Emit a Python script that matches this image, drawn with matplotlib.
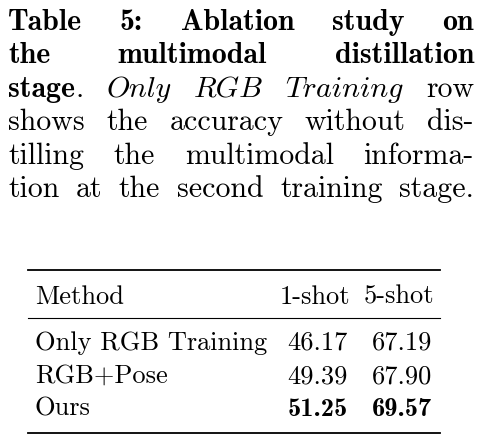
import matplotlib
matplotlib.use("Agg")
import matplotlib.pyplot as plt

methods = ["Only RGB Training", "RGB+Pose", "Ours"]
one_shot = ["46.17", "49.39", "51.25"]
five_shot = ["67.19", "67.90", "69.57"]
best_row = 2

R, B, I = "cmr10", "cmb10", "cmmi10"
caption = [
    [[("Table", B)], [("5:", B)], [("Ablation", B)], [("study", B)], [("on", B)]],
    [[("the", B)], [("multimodal", B)], [("distillation", B)]],
    [[("stage", B), (".", R)], [("Only", I)], [("RGB", I)], [("Training", I)], [("row", R)]],
    [[(w, R)] for w in "shows the accuracy without dis-".split()],
    [[(w, R)] for w in "tilling the multimodal informa-".split()],
    [[(w, R)] for w in "tion at the second training stage.".split()],
]

fig = plt.figure(figsize=(4.8, 4.4), dpi=100)
ax = fig.add_axes([0, 0, 1, 1])
ax.set_xlim(0, 480)
ax.set_ylim(440, 0)
ax.axis("off")
r = fig.canvas.get_renderer()

def width(s, font, size):
    t = ax.text(0, 0, s, fontname=font, fontsize=size)
    w = t.get_window_extent(r).width
    t.remove()
    return w

x0, x1, fs = 8, 474, 21.5
baselines = [30, 63, 97, 130, 164, 197]
for line, yb in zip(caption, baselines):
    ws = [[(s, f, width(s, f, fs)) for s, f in word] for word in line]
    total = sum(p[2] for word in ws for p in word)
    gap = (x1 - x0 - total) / (len(ws) - 1)
    x = x0
    for word in ws:
        for s, f, w in word:
            ax.text(x, yb, s, fontname=f, fontsize=fs, va="baseline")
            x += w
        x += gap

# table
ts = 19
lx0, lx1 = 28, 440
ax.plot([lx0, lx1], [270, 270], color="black", lw=1.3)
ax.plot([lx0, lx1], [318, 318], color="black", lw=0.8)
ax.plot([lx0, lx1], [433, 433], color="black", lw=1.3)
hy = 304
ax.text(35, hy, "Method", fontname=R, fontsize=ts, va="baseline")
ax.text(350, hy, "1-shot", fontname=R, fontsize=ts, va="baseline", ha="right")
ax.text(434, hy, "5-shot", fontname=R, fontsize=ts, va="baseline", ha="right")
for i, (m, a, b) in enumerate(zip(methods, one_shot, five_shot)):
    yb = 350 + i * 33
    f = B if i == best_row else R
    ax.text(35, yb, m, fontname=R, fontsize=ts, va="baseline")
    ax.text(348, yb, a, fontname=f, fontsize=ts, va="baseline", ha="right")
    ax.text(432, yb, b, fontname=f, fontsize=ts, va="baseline", ha="right")

fig.savefig("out.png", dpi=100)
